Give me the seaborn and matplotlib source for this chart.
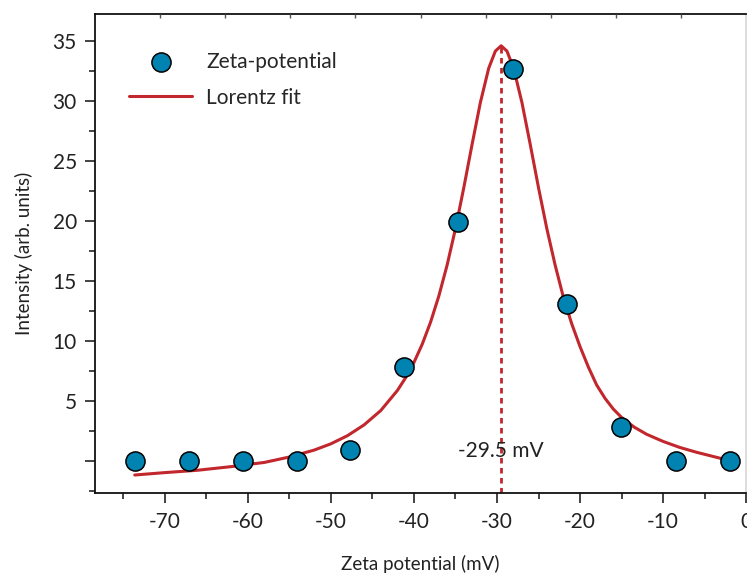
import numpy as np
import pandas as pd
import seaborn as sns
import matplotlib.pyplot as plt
from matplotlib.ticker import MultipleLocator, FixedLocator

# Measured zeta-potential distribution
zeta_mv = [-73.6, -67.1, -60.6, -54.1, -47.7, -41.2, -34.7, -28.1, -21.6, -15.1, -8.5, -2.0]
intensity = [0.0, 0.0, 0.0, 0.0, 0.9, 7.8, 19.9, 32.7, 13.1, 2.8, 0.0, 0.0]

# Lorentz fit curve as drawn
fit_x = [-73.6, -70, -66, -62, -58, -55, -52, -50, -48, -46, -44, -42, -41, -40, -39, -38, -37,
         -36, -35, -34, -33, -32, -31, -30.2, -29.5, -28.8, -28, -27, -26, -25, -24, -23, -22,
         -21, -20, -19, -18, -17, -16, -15, -13.5, -12, -10, -8, -6, -4, -2]
fit_y = [-1.2, -1.0, -0.8, -0.5, -0.15, 0.3, 0.88, 1.4, 2.08, 2.98, 4.17, 5.84, 6.91, 8.18, 9.71,
         11.54, 13.73, 16.32, 19.34, 22.75, 26.37, 29.87, 32.72, 34.15, 34.6, 34.15, 32.72, 29.87,
         26.37, 22.75, 19.34, 16.3, 13.6, 11.4, 9.5, 7.8, 6.3, 5.2, 4.3, 3.6, 2.8, 2.2, 1.6, 1.1,
         0.7, 0.35, 0.0]

peak_mv = -29.5
peak_label = "-29.5 mV"

pts = pd.DataFrame({"zeta": zeta_mv, "intensity": intensity})
fit = pd.DataFrame({"zeta": fit_x, "intensity": fit_y})

sns.set_theme(style="ticks")
plt.rcParams["font.family"] = ["Lato", "DejaVu Sans"]

red = "#c1272d"
blue = "#0083b0"

fig = plt.figure(figsize=(7.47, 5.75), dpi=100)
ax = fig.add_axes([0.127, 0.1426, 0.872, 0.8331])

sns.lineplot(data=fit, x="zeta", y="intensity", ax=ax, color=red, lw=2.2,
             sort=False, estimator=None, label="Lorentz fit", zorder=2)
sns.scatterplot(data=pts, x="zeta", y="intensity", ax=ax, color=blue, s=190,
                edgecolor="black", linewidth=1.1, label="Zeta-potential", zorder=3)

ax.set_xlim(-78.4, 0)
ax.set_ylim(-2.7, 37.25)
ax.plot([peak_mv, peak_mv], [-2.7, 34.7], color=red, lw=2.0, ls=(0, (2.0, 1.6)), zorder=1)
ax.text(peak_mv, 0.8, peak_label, ha="center", va="center", fontsize=15, color="#222222")

ax.xaxis.set_major_locator(MultipleLocator(10))
ax.xaxis.set_minor_locator(MultipleLocator(5))
ax.yaxis.set_major_locator(FixedLocator([0, 5, 10, 15, 20, 25, 30, 35]))
ax.yaxis.set_minor_locator(MultipleLocator(2.5))
ax.set_yticklabels(["", "5", "10", "15", "20", "25", "30", "35"])
ax.set_xticks([-70, -60, -50, -40, -30, -20, -10, 0])
ax.set_xticklabels(["-70", "-60", "-50", "-40", "-30", "-20", "-10", "0"])
ax.tick_params(which="major", length=7, width=1.2, labelsize=15, colors="#222222", pad=6)
ax.tick_params(which="minor", length=4, width=1.2)
ax.tick_params(axis="x", pad=7)

ax.set_xlabel("Zeta potential (mV)", fontsize=13.5, color="#222222", labelpad=16)
ax.set_ylabel("Intensity (arb. units)", fontsize=13.5, color="#222222", labelpad=14)

for s in ["left", "bottom", "top"]:
    ax.spines[s].set_color("#111111")
    ax.spines[s].set_linewidth(1.3)
ax.spines["right"].set_color("#d8d8d8")

# small inward marks along the top border
top = ax.twiny()
top.set_xlim(0, 10)
top.set_xticks(range(1, 10))
top.set_xticklabels([])
top.tick_params(axis="x", direction="in", length=3, width=1, color="#555555")
for s in top.spines.values():
    s.set_visible(False)

h, l = ax.get_legend_handles_labels()
ax.legend(h[::-1], l[::-1], loc="upper left", bbox_to_anchor=(0.024, 0.96), frameon=False,
          fontsize=15, handlelength=3.0, handletextpad=0.7, labelspacing=0.75)

plt.savefig("out.png", dpi=100)
